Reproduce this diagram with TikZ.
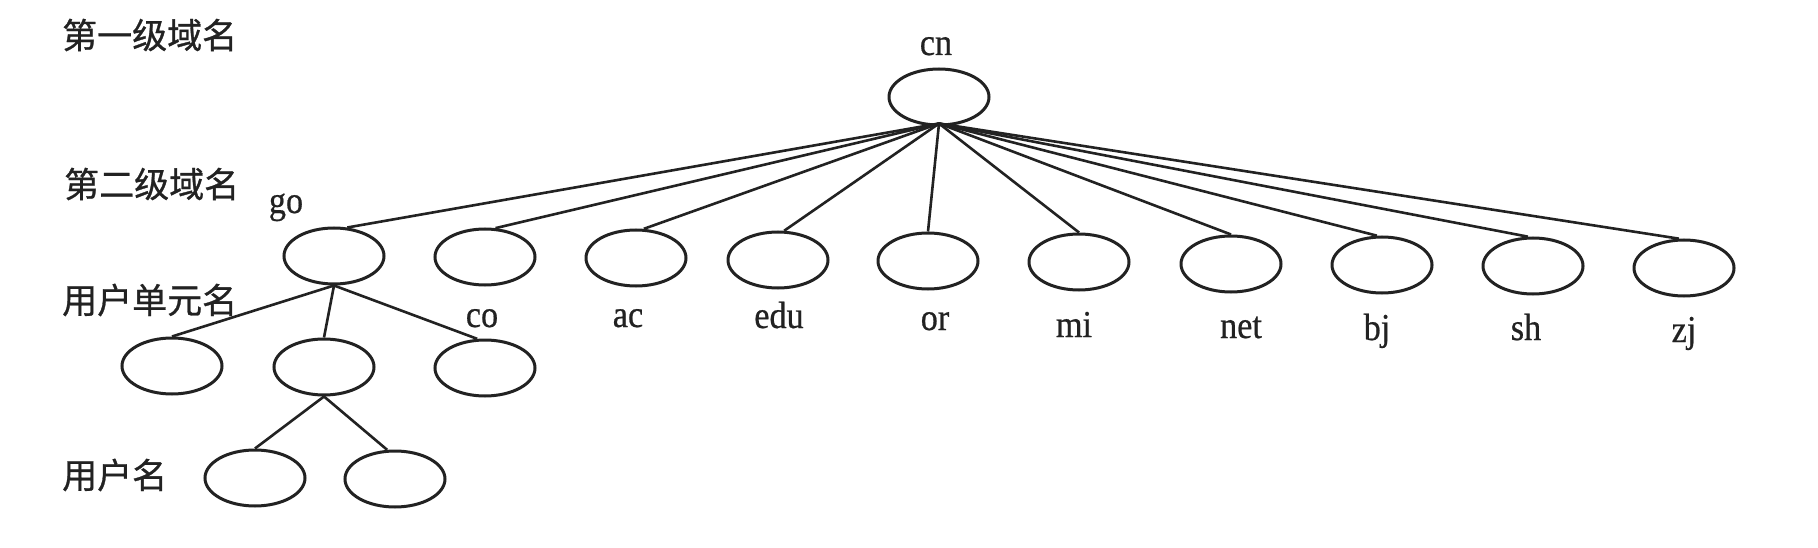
\documentclass[tikz,border=0pt]{standalone}
\usepackage{fontspec}
\setmainfont{Liberation Serif}
\newfontfamily\cjk[FakeBold=0.8]{Noto Sans CJK SC}
\newfontfamily\lblfont[FakeBold=0.6]{Liberation Serif}
\usetikzlibrary{shapes.geometric}
\definecolor{ink}{HTML}{222222}
\tikzset{
  dn/.style={ellipse, draw=ink, line width=3pt, minimum width=100pt, minimum height=56pt, inner sep=0pt},
  lbl/.style={anchor=base, inner sep=0pt, font=\lblfont\fontsize{38}{40}\selectfont, text=ink, xscale=0.9},
  lvl/.style={anchor=west, inner sep=0pt, font=\cjk\fontsize{35}{38}\selectfont, text=ink},
  edge/.style={draw=ink, line width=2.6pt}
}
\begin{document}
\begin{tikzpicture}[x=1pt,y=-1pt]
\useasboundingbox[fill=white] (0,0) rectangle (1818,548);
% level labels
\node[lvl] (l1) at (62,35) {第一级域名};
\node[lvl] (l2) at (64,184) {第二级域名};
\node[lvl] (l3) at (62,300) {用户单元名};
\node[lvl] (l4) at (62,475) {用户名};
% root
\node[dn] (cn) at (939,97) {};
\node[lbl] (tcn) at (936,55) {cn};
% second level
\node[dn] (go) at (334,256) {};
\node[dn] (co) at (485,257) {};
\node[dn] (ac) at (636,258) {};
\node[dn] (edu) at (778,260) {};
\node[dn] (or) at (928,261) {};
\node[dn] (mi) at (1079,262) {};
\node[dn] (net) at (1231,264) {};
\node[dn] (bj) at (1382,265) {};
\node[dn] (sh) at (1533,266) {};
\node[dn] (zj) at (1684,268) {};
\node[lbl] (tgo) at (286,213) {go};
\node[lbl] (tco) at (482,327) {co};
\node[lbl] (tac) at (628,327) {ac};
\node[lbl] (tedu) at (779,328) {edu};
\node[lbl] (tor) at (935,330) {or};
\node[lbl] (tmi) at (1074,337) {mi};
\node[lbl] (tnet) at (1241,338) {net};
\node[lbl] (tbj) at (1377,340) {bj};
\node[lbl] (tsh) at (1526,340) {sh};
\node[lbl] (tzj) at (1684,342) {zj};
% third level
\node[dn] (u1) at (172,366) {};
\node[dn] (u2) at (324,367) {};
\node[dn] (u3) at (485,368) {};
% fourth level
\node[dn] (v1) at (255,478) {};
\node[dn] (v2) at (395,479) {};
% connectors
\coordinate (hub) at ([yshift=3pt]cn.south);
\draw[edge] (hub) -- (go.65);
\draw[edge] (hub) -- (co.70);
\draw[edge] (hub) -- (ac.75);
\draw[edge] (hub) -- (edu.78);
\draw[edge] (hub) -- (or.north);
\foreach \c in {mi,net}
  \draw[edge] (hub) -- (\c.north);
\foreach \c in {bj,sh,zj}
  \draw[edge] (hub) -- (\c.100);
\draw[edge] (go.south) -- (u1.north);
\draw[edge] (go.south) -- (u2.north);
\draw[edge] (go.south) -- (u3.105);
\draw[edge] (u2.south) -- (v1.north);
\draw[edge] (u2.south) -- (v2.105);
\end{tikzpicture}
\end{document}
